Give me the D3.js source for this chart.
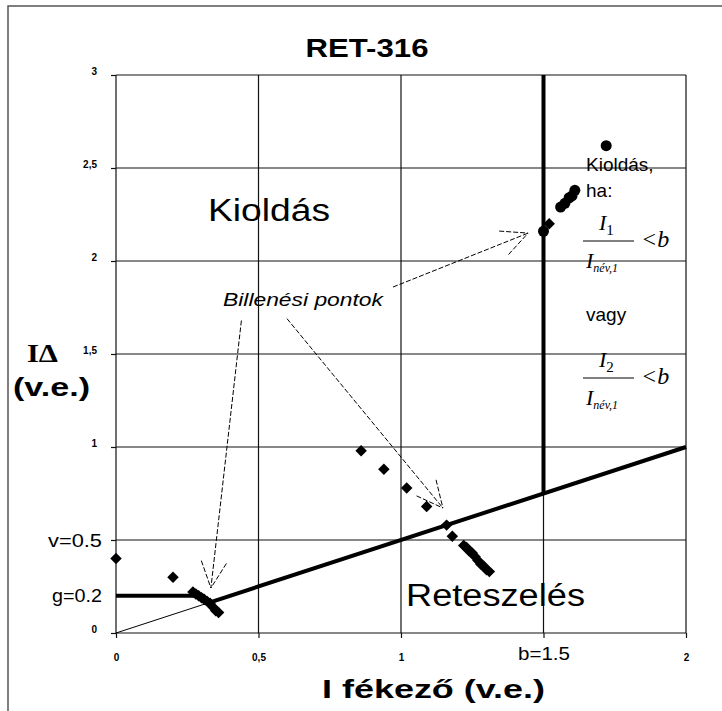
<!DOCTYPE html>
<html lang="hu">
<head>
<meta charset="utf-8">
<title>RET-316</title>
<script src="https://d3js.org/d3.v7.min.js"></script>
<style>
  body { margin: 0; background: #fff; }
  text { font-family: Arial, "Liberation Sans", sans-serif; }
</style>
</head>
<body>
<svg id="chart"></svg>
<script>
// data
const yTicks = [0, 0.5, 1, 1.5, 2, 2.5, 3];
const yTickLabels = ["0", "v=0.5", "1", "1,5", "2", "2,5", "3"];
const xTicks = [0, 0.5, 1, 1.5, 2];
const xTickLabels = ["0", "0,5", "1", "b=1.5", "2"];

// tripping points (diamonds)
const diaX = [0, 0.2,
              0.27, 0.28, 0.29, 0.30, 0.31, 0.32, 0.33, 0.34, 0.35, 0.36,
              0.86, 0.94, 1.02, 1.09, 1.16, 1.18,
              1.22, 1.23, 1.24, 1.25, 1.26, 1.27, 1.28, 1.29, 1.30, 1.31,
              1.52];
const diaY = [0.4, 0.3,
              0.22, 0.21, 0.20, 0.19, 0.18, 0.17, 0.16, 0.14, 0.12, 0.11,
              0.98, 0.88, 0.78, 0.68, 0.58, 0.52,
              0.47, 0.46, 0.44, 0.43, 0.41, 0.39, 0.37, 0.36, 0.34, 0.33,
              2.2];
// points near b (circles)
const dotX = [1.5, 1.56, 1.575, 1.59, 1.6, 1.61, 1.72];
const dotY = [2.16, 2.29, 2.31, 2.34, 2.35, 2.38, 2.62];

// characteristic
const g = 0.2, v = 0.5, b = 1.5;
const thinLine = [[0, 0], [0.34, 0.17]];
const thickLines = [
  [[0, g], [0.31, g]],
  [[0.33, 0.165], [2, 1]],
  [[b, 0.75], [b, 3]]
];

// arrows: [start, tip] in data units
const arrows = [
  [[0.44, 1.68], [0.333, 0.242]],
  [[0.6, 1.69], [1.147, 0.672]],
  [[0.972, 1.86], [1.446, 2.15]]
];

// 1) svg
const W = 722, H = 711;
const svg = d3.select("#chart").attr("width", W).attr("height", H);

svg.append("rect")
  .attr("x", 8).attr("y", 6).attr("width", 740).attr("height", 740)
  .attr("fill", "#fff").attr("stroke", "#555").attr("stroke-width", 1.5);

// 2) scales
const x = d3.scaleLinear().domain([0, 2]).range([116, 686]);
const y = d3.scaleLinear().domain([0, 3]).range([633, 75]);

// 3) grid
const grid = svg.append("g").attr("stroke", "#111").attr("stroke-width", 1.2);
grid.selectAll(".gx").data(xTicks).enter().append("line")
  .attr("x1", d => x(d)).attr("x2", d => x(d))
  .attr("y1", y(0)).attr("y2", y(3));
grid.selectAll(".gy").data(yTicks).enter().append("line")
  .attr("x1", x(0)).attr("x2", x(2))
  .attr("y1", d => y(d)).attr("y2", d => y(d));

// 4) axes
const yAxis = d3.axisLeft(y).tickValues(yTicks)
  .tickFormat((d, i) => yTickLabels[i]).tickSize(5).tickSizeOuter(0).tickPadding(14);
const gy = svg.append("g").attr("transform", "translate(" + x(0) + ",0)").call(yAxis);
gy.select(".domain").remove();
gy.selectAll("line").attr("stroke", "#111").attr("stroke-width", 1.2);
gy.selectAll("text")
  .style("font-size", "10px").style("font-weight", "bold")
  .attr("dy", "-0.1em");
gy.selectAll("text").filter(d => d === v)
  .style("font-size", "19px").style("font-weight", "normal")
  .attr("textLength", 54).attr("lengthAdjust", "spacingAndGlyphs")
  .attr("dx", 5).attr("dy", "0.32em");

// extra g label
svg.append("text")
  .attr("x", x(0) - 14).attr("y", y(g)).attr("dy", "0.32em")
  .attr("text-anchor", "end").style("font-size", "19px")
  .attr("textLength", 50).attr("lengthAdjust", "spacingAndGlyphs")
  .text("g=" + g.toFixed(1));

const xAxis = d3.axisBottom(x).tickValues(xTicks)
  .tickFormat((d, i) => xTickLabels[i]).tickSize(5).tickSizeOuter(0).tickPadding(16);
const gx = svg.append("g").attr("transform", "translate(0," + y(0) + ")").call(xAxis);
gx.select(".domain").remove();
gx.selectAll("line").attr("stroke", "#111").attr("stroke-width", 1.2);
gx.selectAll("text").style("font-size", "10px").style("font-weight", "bold");
gx.selectAll("text").filter(d => d === b)
  .style("font-size", "19px").style("font-weight", "normal")
  .attr("textLength", 52).attr("lengthAdjust", "spacingAndGlyphs")
  .attr("dy", "0.3em");

// 5) characteristic lines
const line = d3.line().x(d => x(d[0])).y(d => y(d[1]));
svg.append("path").attr("d", line(thinLine))
  .attr("fill", "none").attr("stroke", "#000").attr("stroke-width", 1);
svg.selectAll(".thick").data(thickLines).enter().append("path")
  .attr("d", d => line(d))
  .attr("fill", "none").attr("stroke", "#000").attr("stroke-width", 4);

// 6) points
const diamonds = diaX.map((d, i) => [d, diaY[i]]);
svg.selectAll(".dia").data(diamonds).enter().append("path")
  .attr("d", d3.symbol().type(d3.symbolSquare).size(66))
  .attr("transform", d => "translate(" + x(d[0]) + "," + y(d[1]) + ") rotate(45)")
  .attr("fill", "#000");
const dots = dotX.map((d, i) => [d, dotY[i]]);
svg.selectAll(".dot").data(dots).enter().append("circle")
  .attr("cx", d => x(d[0])).attr("cy", d => y(d[1])).attr("r", 5.5)
  .attr("fill", "#000");

// 7) arrows
const ag = svg.append("g").attr("stroke", "#000").attr("stroke-width", 1)
  .attr("stroke-dasharray", "5,2").attr("fill", "none");
arrows.forEach(a => {
  const x0 = x(a[0][0]), y0 = y(a[0][1]), x1 = x(a[1][0]), y1 = y(a[1][1]);
  ag.append("line").attr("x1", x0).attr("y1", y0).attr("x2", x1).attr("y2", y1);
  const ang = Math.atan2(y0 - y1, x0 - x1), len = 29, spread = 0.45;
  [-spread, spread].forEach(s => {
    ag.append("line")
      .attr("x1", x1 + len * Math.cos(ang + s)).attr("y1", y1 + len * Math.sin(ang + s))
      .attr("x2", x1).attr("y2", y1);
  });
});

// 8) texts
svg.append("text").attr("x", 367).attr("y", 57).attr("text-anchor", "middle")
  .style("font-size", "25px").style("font-weight", "bold")
  .attr("textLength", 123).attr("lengthAdjust", "spacingAndGlyphs")
  .text("RET-316");

svg.append("text").attr("x", 208).attr("y", 221)
  .style("font-size", "31px")
  .attr("textLength", 122).attr("lengthAdjust", "spacingAndGlyphs")
  .text("Kioldás");

svg.append("text").attr("x", 406).attr("y", 606)
  .style("font-size", "31px")
  .attr("textLength", 179).attr("lengthAdjust", "spacingAndGlyphs")
  .text("Reteszelés");

svg.append("text").attr("x", 223).attr("y", 306)
  .style("font-size", "18px").style("font-style", "italic")
  .attr("textLength", 160).attr("lengthAdjust", "spacingAndGlyphs")
  .text("Billenési pontok");

svg.append("text").attr("x", 322).attr("y", 698)
  .style("font-size", "25px").style("font-weight", "bold")
  .attr("textLength", 223).attr("lengthAdjust", "spacingAndGlyphs")
  .text("I fékező (v.e.)");

svg.append("text").attr("x", 27).attr("y", 362)
  .style("font-family", "'Liberation Serif', 'Times New Roman', serif")
  .style("font-size", "25px").style("font-weight", "bold")
  .attr("textLength", 31).attr("lengthAdjust", "spacingAndGlyphs")
  .text("IΔ");
svg.append("text").attr("x", 13).attr("y", 396)
  .style("font-size", "25px").style("font-weight", "bold")
  .attr("textLength", 77).attr("lengthAdjust", "spacingAndGlyphs")
  .text("(v.e.)");

// right-side condition
const note = svg.append("g");
note.append("text").attr("x", 586).attr("y", 171).style("font-size", "19px").text("Kioldás,");
note.append("text").attr("x", 586).attr("y", 197).style("font-size", "19px").text("ha:");
note.append("text").attr("x", 586).attr("y", 321).style("font-size", "19px").text("vagy");

const serif = "'Liberation Serif', 'Times New Roman', serif";
function fraction(num, top) {
  const t = note.append("text").attr("x", 599).attr("y", top)
    .style("font-family", serif).style("font-style", "italic").style("font-size", "22px");
  t.append("tspan").text("I");
  t.append("tspan").attr("dy", 5).style("font-size", "15px").style("font-style", "normal").text(num);
  note.append("line").attr("x1", 583).attr("x2", 634)
    .attr("y1", top + 11).attr("y2", top + 11).attr("stroke", "#000").attr("stroke-width", 1);
  note.append("text").attr("x", 641).attr("y", top + 17)
    .style("font-family", serif).style("font-style", "italic").style("font-size", "24px")
    .text("<b");
  const d = note.append("text").attr("x", 586).attr("y", top + 38)
    .style("font-family", serif).style("font-style", "italic").style("font-size", "22px");
  d.append("tspan").text("I");
  d.append("tspan").attr("dy", 4).style("font-size", "12px").text("név,1");
}
fraction("1", 230);
fraction("2", 367);
</script>
</body>
</html>
